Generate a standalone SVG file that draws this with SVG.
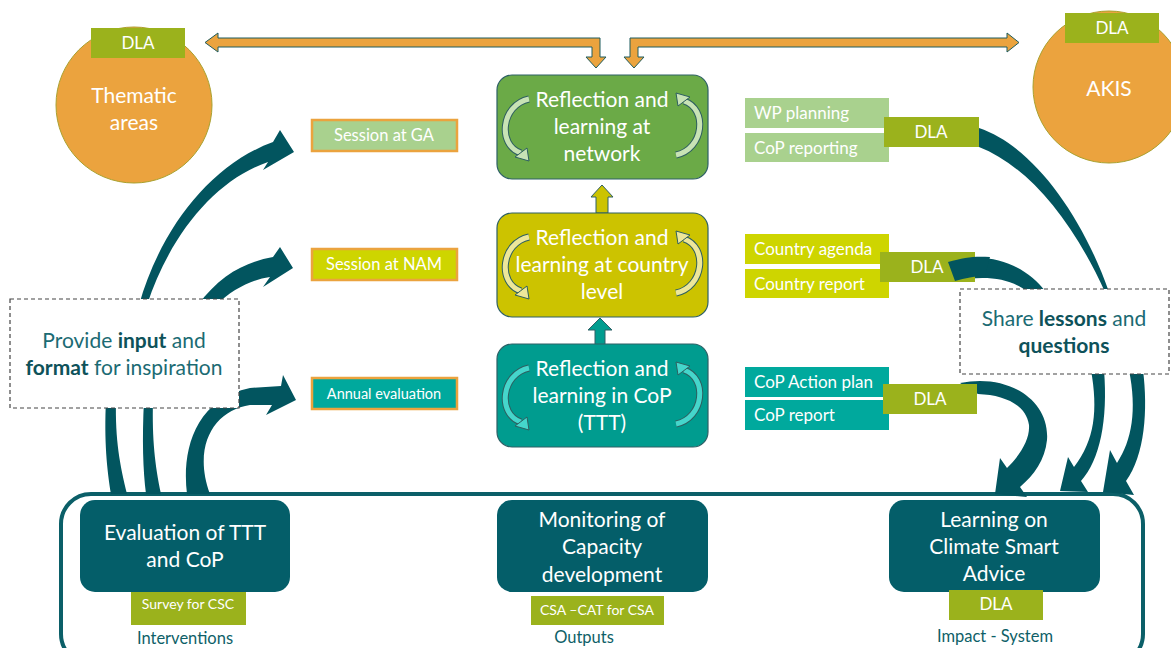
<svg xmlns="http://www.w3.org/2000/svg" xmlns:xlink="http://www.w3.org/1999/xlink" width="1171" height="648" viewBox="0 0 1171 648">
<style>
text{font-family:Lato,"Open Sans","Liberation Sans",sans-serif}
.w{fill:#fff}
.mid{text-anchor:middle}
.nt{font-size:21px}
.lab{font-size:17px}
.dla{fill:#9BB21C}
.orange{fill:#EBA33E;stroke:#A9A12E;stroke-width:1}
.arr{fill:#02555F}
.oarr{fill:#EBA33E;stroke:#1F5C5E;stroke-width:1}
.node{stroke:#2E6066;stroke-width:1.2}
.dark{fill:#045E69}
.dash{fill:#fff;stroke:#444;stroke-width:1.2;stroke-dasharray:4 3}
.tl{fill:#1B6B73}
.tb{fill:#0E525A;font-weight:bold}
.cap{fill:#0E5F68;font-size:16.5px}
</style>
<defs>
<g id="cyc">
<path d="M32 24 C4 30 0 70 24 78" fill="none" stroke="#2E5F60" stroke-width="7"/>
<path d="M32 24 C4 30 0 70 24 78" fill="none" stroke="currentColor" stroke-width="5"/>
<polygon points="32,86 30,73 18,82" fill="currentColor" stroke="#2E5F60" stroke-width="1"/>
</g>
</defs>
<rect width="1171" height="648" fill="#fff"/>

<g id="container">
<rect x="61" y="494" width="1082" height="170" rx="30" fill="#fff" stroke="#0B5F68" stroke-width="4"/>
</g>

<g id="connectors">
<polygon class="oarr" points="205,42.5 218,33 218,38 600,38 600,57 606,57 596,68 586,57 592,57 592,47 218,47 218,52"/>
<polygon class="oarr" points="1019,42.5 1007,52 1007,47 638,47 638,57 644,57 634,68 624,57 630,57 630,38 1007,38 1007,33"/>
<polygon points="602,185 613,197 608,197 608,213 596,213 596,197 591,197" fill="#CCC300" stroke="#2E6066" stroke-width="1"/>
<polygon points="600,318 612,330 605,330 605,345 595,345 595,330 588,330" fill="#009C8F" stroke="#2E6066" stroke-width="1"/>
<path class="arr" d="M139 305 C160 230 210 165 273 142 L280 130 L294 152 L263 170 L268 162 C215 180 170 235 147 305 Z"/>
<path class="arr" d="M198 305 C220 275 245 262 273 257 L280 247 L293 268 L263 287 L270 277 C250 280 232 290 216 305 Z"/>
<path class="arr" d="M187 494 C182 455 192 400 250 388 L281 386 L283 375 L296 400 L266 415 L272 405 L250 405 C215 410 192 445 210 494 Z"/>
<path class="arr" d="M106 400 C104 440 107 470 111 494 L127 494 C120 465 115 440 116 400 Z"/>
<path class="arr" d="M144 400 C142 440 143 470 146 494 L161 494 C155 465 152 440 153 400 Z"/>
<path class="arr" d="M979 128 C1030 145 1080 210 1109 292 L1105 292 C1070 215 1025 165 979 147 Z"/>
<path class="arr" d="M948 262 C990 250 1025 265 1046 292 L1028 292 C1010 278 985 275 955 281 Z"/>
<path class="arr" d="M960 383 C1008 373 1050 400 1047 440 C1045 460 1034 475 1020 487 L1027 497 L995 494 L1000 458 L1007 468 C1020 455 1030 440 1029 425 C1026 405 1005 395 978 394 Z"/>
<path class="arr" d="M1091 370 C1098 410 1095 440 1074 467 L1068 457 L1060 491 L1088 492 L1081 481 C1100 460 1108 420 1104 370 Z"/>
<path class="arr" d="M1129 370 C1137 410 1132 440 1117 463 L1110 450 L1103 492 L1134 495 L1126 481 C1145 455 1148 410 1143 370 Z"/>
</g>

<g id="thematic">
<circle class="orange" cx="134" cy="105" r="78"/>
<rect class="dla" x="91" y="28" width="94" height="30"/>
<text class="w mid lab" x="138" y="49">DLA</text>
<text class="w mid nt" x="134" y="103">Thematic</text>
<text class="w mid nt" x="134" y="130">areas</text>
</g>

<g id="akis">
<circle class="orange" cx="1109" cy="87" r="76"/>
<rect class="dla" x="1065" y="13" width="94" height="30"/>
<text class="w mid lab" x="1112" y="34">DLA</text>
<text class="w mid nt" x="1109" y="96">AKIS</text>
</g>

<g id="network">
<rect class="node" x="497" y="75" width="211" height="104" rx="15" fill="#6BAA47"/>
<use xlink:href="#cyc" transform="translate(497 75)" color="#C8E3B5"/>
<use xlink:href="#cyc" transform="translate(497 75) rotate(180 105.5 52)" color="#C8E3B5"/>
<text class="w mid nt" x="602" y="107">Reflection and</text>
<text class="w mid nt" x="602" y="134">learning at</text>
<text class="w mid nt" x="602" y="161">network</text>
</g>

<g id="country">
<rect class="node" x="497" y="213" width="211" height="104" rx="15" fill="#CCC300"/>
<use xlink:href="#cyc" transform="translate(497 213)" color="#EDE79A"/>
<use xlink:href="#cyc" transform="translate(497 213) rotate(180 105.5 52)" color="#EDE79A"/>
<text class="w mid nt" x="602" y="245">Reflection and</text>
<text class="w mid nt" x="602" y="272">learning at country</text>
<text class="w mid nt" x="602" y="299">level</text>
</g>

<g id="cop">
<rect class="node" x="497" y="344" width="211" height="103" rx="15" fill="#009C8F"/>
<use xlink:href="#cyc" transform="translate(497 344)" color="#45D6CB"/>
<use xlink:href="#cyc" transform="translate(497 344) rotate(180 105.5 52)" color="#45D6CB"/>
<text class="w mid nt" x="602" y="376">Reflection and</text>
<text class="w mid nt" x="602" y="403">learning in CoP</text>
<text class="w mid nt" x="602" y="430">(TTT)</text>
</g>

<g id="session-ga">
<rect x="312" y="120" width="145" height="31" fill="#A9D18E" stroke="#EBA33E" stroke-width="2.5"/>
<text class="w mid" x="384" y="141" font-size="16.5">Session at GA</text>
</g>
<g id="session-nam">
<rect x="312" y="249" width="145" height="31" fill="#CED500" stroke="#EBA33E" stroke-width="2.5"/>
<text class="w mid" x="384" y="270" font-size="16.5">Session at NAM</text>
</g>
<g id="annual-eval">
<rect x="312" y="378" width="145" height="31" fill="#00A99D" stroke="#EBA33E" stroke-width="2.5"/>
<text class="w mid" x="384" y="399" font-size="14.5">Annual evaluation</text>
</g>

<g id="network-outputs">
<rect x="745" y="98" width="144" height="30" fill="#A9D18E"/>
<rect x="745" y="133" width="144" height="29" fill="#A9D18E"/>
<text class="w lab" x="754" y="119">WP planning</text>
<text class="w lab" x="754" y="154">CoP reporting</text>
<rect class="dla" x="884" y="117" width="95" height="30"/>
<text class="w mid lab" x="931" y="138">DLA</text>
</g>

<g id="country-outputs">
<rect x="745" y="234" width="144" height="30" fill="#CED500"/>
<rect x="745" y="269" width="144" height="29" fill="#CED500"/>
<text class="w lab" x="754" y="255">Country agenda</text>
<text class="w lab" x="754" y="290">Country report</text>
<rect class="dla" x="880" y="252" width="95" height="30"/>
<text class="w mid lab" x="927" y="273">DLA</text>
</g>
<g id="cop-outputs">
<rect x="745" y="367" width="144" height="30" fill="#00A99D"/>
<rect x="745" y="400" width="144" height="30" fill="#00A99D"/>
<text class="w lab" x="754" y="388">CoP Action plan</text>
<text class="w lab" x="754" y="421">CoP report</text>
<rect class="dla" x="883" y="384" width="94" height="30"/>
<text class="w mid lab" x="930" y="405">DLA</text>
</g>
<path class="arr" d="M948 262 C965 257 975 256 990 257 L985 276 C975 276 965 278 955 281 Z"/>

<g id="provide-input">
<rect class="dash" x="10" y="299" width="229" height="109"/>
<text class="mid nt" x="124" y="348"><tspan class="tl">Provide </tspan><tspan class="tb">input</tspan><tspan class="tl"> and</tspan></text>
<text class="mid nt" x="124" y="375"><tspan class="tb">format</tspan><tspan class="tl"> for inspiration</tspan></text>
</g>

<g id="share-lessons">
<rect class="dash" x="960" y="289" width="209" height="85"/>
<text class="mid nt" x="1064" y="326"><tspan class="tl">Share </tspan><tspan class="tb">lessons</tspan><tspan class="tl"> and</tspan></text>
<text class="mid nt tb" x="1064" y="353">questions</text>
</g>

<g id="evaluation">
<rect class="dark" x="80" y="500" width="210" height="92" rx="15"/>
<text class="w mid nt" x="185" y="540">Evaluation of TTT</text>
<text class="w mid nt" x="185" y="567">and CoP</text>
<rect class="dla" x="131" y="592" width="115" height="33"/>
<text class="w mid" x="188" y="609" font-size="14">Survey for CSC</text>
<text class="cap mid" x="185" y="644">Interventions</text>
</g>

<g id="monitoring">
<rect class="dark" x="497" y="500" width="211" height="92" rx="15"/>
<text class="w mid nt" x="602" y="527">Monitoring of</text>
<text class="w mid nt" x="602" y="554">Capacity</text>
<text class="w mid nt" x="602" y="582">development</text>
<rect class="dla" x="531" y="596" width="133" height="29"/>
<text class="w mid" x="597" y="615" font-size="14">CSA –CAT for CSA</text>
<text class="cap mid" x="584" y="643">Outputs</text>
</g>

<g id="learning">
<rect class="dark" x="889" y="500" width="211" height="92" rx="15"/>
<text class="w mid nt" x="994" y="527">Learning on</text>
<text class="w mid nt" x="994" y="554">Climate Smart</text>
<text class="w mid nt" x="994" y="581">Advice</text>
<rect class="dla" x="949" y="590" width="94" height="30"/>
<text class="w mid lab" x="996" y="610">DLA</text>
<text class="cap mid" x="995" y="642" font-size="15.5">Impact - System</text>
</g>
</svg>
